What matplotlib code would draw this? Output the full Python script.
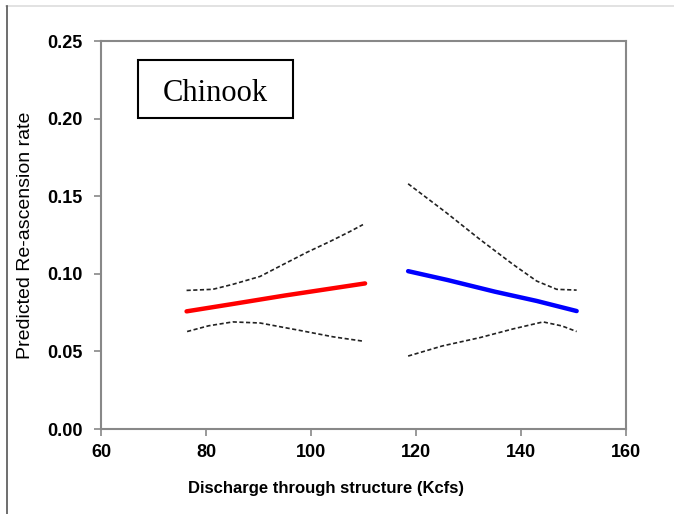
import matplotlib
matplotlib.use("Agg")
import matplotlib.pyplot as plt
from matplotlib.lines import Line2D
from matplotlib.patches import Rectangle

# Data
red_x = [76.3, 85.0, 95.0, 110.3]
red_y = [0.0758, 0.0805, 0.0860, 0.0938]
red_up_x = [76.3, 81.3, 85.1, 90.3, 94.7, 99.2, 103.6, 107.4, 109.9]
red_up_y = [0.0893, 0.0900, 0.0932, 0.0983, 0.1060, 0.1138, 0.1208, 0.1272, 0.1317]
red_lo_x = [76.4, 80.5, 85.1, 90.3, 97.9, 104.2, 109.9]
red_lo_y = [0.0628, 0.0665, 0.0690, 0.0683, 0.0635, 0.0594, 0.0566]

blue_x = [118.5, 126.0, 135.0, 143.0, 150.6]
blue_y = [0.1017, 0.0960, 0.0885, 0.0825, 0.0760]
blue_up_x = [118.5, 125.8, 132.2, 138.5, 143.0, 146.8, 150.6]
blue_up_y = [0.1580, 0.1393, 0.1221, 0.1060, 0.0953, 0.0900, 0.0895]
blue_lo_x = [118.5, 125.0, 132.2, 138.5, 144.2, 147.8, 150.6]
blue_lo_y = [0.0470, 0.0535, 0.0589, 0.0645, 0.0690, 0.0664, 0.0628]

xticks = [60, 80, 100, 120, 140, 160]
yticks = [0.00, 0.05, 0.10, 0.15, 0.20, 0.25]

fig = plt.figure(figsize=(6.74, 5.14), dpi=100)
ax = fig.add_axes([101/674, 1 - 429/514, (626-101)/674, (429-41)/514])

dash = dict(color="#222222", lw=1.2, ls=(0, (2.5, 1.5)))
ax.plot(red_up_x, red_up_y, **dash)
ax.plot(red_lo_x, red_lo_y, **dash)
ax.plot(blue_up_x, blue_up_y, **dash)
ax.plot(blue_lo_x, blue_lo_y, **dash)
ax.plot(red_x, red_y, color="#ff0000", lw=3.2, solid_capstyle="round")
ax.plot(blue_x, blue_y, color="#0000ff", lw=3.2, solid_capstyle="round")

ax.set_xlim(60, 160)
ax.set_ylim(0, 0.25)
ax.set_xticks(xticks)
ax.set_yticks(yticks)
ax.set_xticklabels([str(v) for v in xticks], fontsize=13, fontweight="bold", family="Liberation Sans")
ax.set_yticklabels([f"{v:.2f}" for v in yticks], fontsize=13, fontweight="bold", family="Liberation Sans")
for s in ax.spines.values():
    s.set_color("#888888")
    s.set_linewidth(1.5)
ax.tick_params(direction="out", length=5, width=1.2, color="#888888")
ax.tick_params(axis="y", pad=8)
ax.tick_params(axis="x", pad=6)

ax.set_xlabel("Discharge through structure (Kcfs)", fontsize=12, fontweight="bold",
              family="Liberation Sans")
ax.xaxis.set_label_coords((326-101)/525, -(481-429)/388)
ax.set_ylabel("Predicted Re-ascension rate", fontsize=14, family="Liberation Sans")
ax.yaxis.set_label_coords(-(101-34)/525, 0.5)

ax.add_patch(Rectangle((0.0705, 0.8015), 0.2952, 0.1495, transform=ax.transAxes,
                       fc="white", ec="black", lw=1.5, zorder=5))
ax.text(0.218, 0.846, "Chinook", transform=ax.transAxes, fontsize=22,
        family="Liberation Serif", va="baseline", ha="center", zorder=6)

# outer border lines
fig.add_artist(Line2D([6/674, 1], [1 - 6/514, 1 - 6/514], color="#dddddd", lw=1.2))
fig.add_artist(Line2D([7/674, 7/674], [0, 1 - 6/514], color="#555555", lw=1.2))

fig.savefig("out.png", dpi=100)
